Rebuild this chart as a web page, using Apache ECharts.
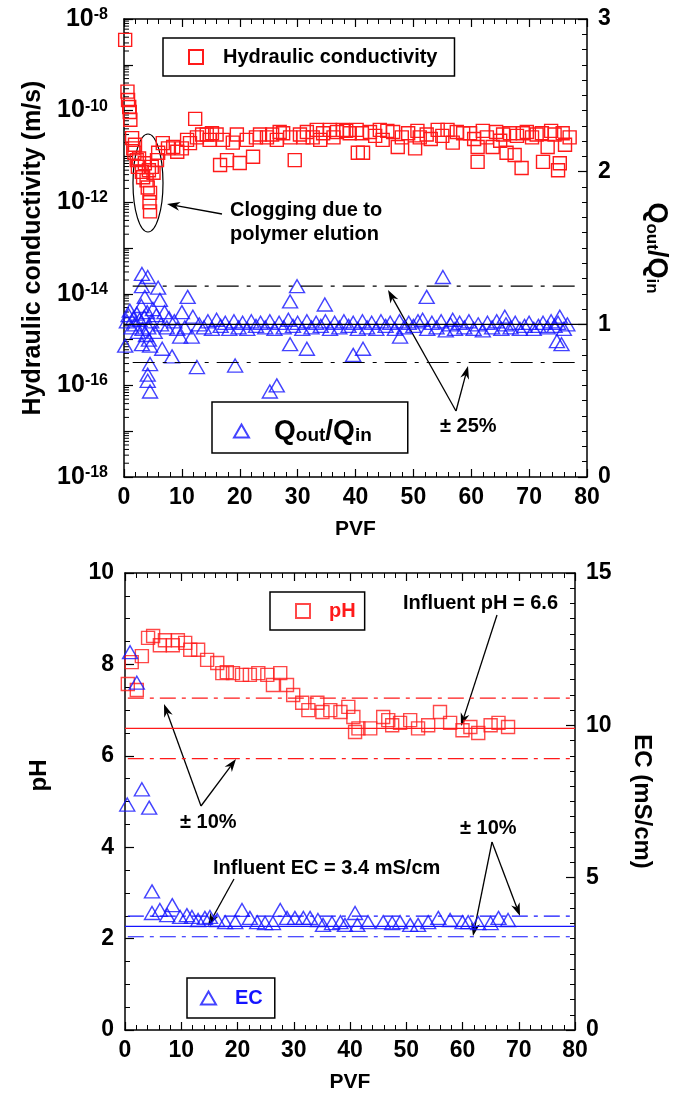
<!DOCTYPE html>
<html><head><meta charset="utf-8">
<script src="https://cdn.jsdelivr.net/npm/echarts@6/dist/echarts.min.js"></script>
<style>html,body{margin:0;padding:0;background:#fff}#c{width:686px;height:1104px}</style>
</head><body><div id="c"></div>
<script>
// ---------- Top panel data ----------
const kPVF = [0.2,0.6,0.7,0.9,1.0,1.1,1.4,1.6,1.9,1.8,2.2,2.4,2.6,3.1,3.3,3.6,3.9,4.1,4.3,4.5,4.4,4.5,4.8,5.1,5.7,5.9,6.7,7.6,8.5,9.2,10.0,10.9,11.4,12.3,12.6,13.5,14.3,14.8,15.2,16.0,16.6,17.1,17.8,18.8,19.5,20.0,21.2,22.3,22.8,23.5,24.7,25.6,26.4,26.9,27.5,28.7,29.5,30.4,31.0,31.6,32.6,33.3,33.9,34.4,35.6,36.2,36.8,37.8,38.4,39.0,40.2,40.4,41.1,41.3,42.5,43.4,44.2,44.7,45.5,46.5,47.3,48.0,49.1,50.3,50.7,51.1,52.3,53.0,54.2,55.0,55.9,56.8,57.5,58.6,59.8,60.5,61.1,61.1,62.0,62.7,63.7,64.3,65.0,65.5,66.1,66.7,67.5,67.9,68.7,68.9,69.6,70.5,71.3,72.2,72.4,73.2,73.8,74.4,75.0,75.3,75.8,76.2,77.0];
const kVal = [3.5e-9,2.6e-10,1.7e-10,1.2e-10,9.3e-11,6.3e-11,2.5e-11,1.5e-11,1.8e-11,1.2e-11,8.3e-12,5.9e-12,9.0e-12,4.6e-12,3.5e-12,7.1e-12,3.0e-12,2.1e-12,5.0e-12,1.6e-12,1.0e-12,6.3e-13,5.9e-12,4.4e-12,8.3e-12,1.2e-11,1.95e-11,1.5e-11,1.6e-11,1.26e-11,1.5e-11,2.3e-11,1.95e-11,6.6e-11,2.6e-11,3.0e-11,3.0e-11,2.3e-11,3.2e-11,3.0e-11,6.5e-12,2.3e-11,8.3e-12,2.0e-11,3.0e-11,7.2e-12,2.3e-11,9.8e-12,2.6e-11,3.0e-11,2.6e-11,3.0e-11,2.3e-11,3.4e-11,3.2e-11,2.6e-11,8.3e-12,3.0e-11,2.6e-11,3.4e-11,2.6e-11,3.8e-11,2.3e-11,3.2e-11,3.8e-11,2.6e-11,3.4e-11,3.8e-11,3.6e-11,3.2e-11,3.8e-11,1.2e-11,3.2e-11,1.2e-11,3.4e-11,2.8e-11,3.8e-11,2.3e-11,3.6e-11,3.4e-11,1.6e-11,2.6e-11,3.2e-11,1.5e-11,3.6e-11,2.6e-11,3.0e-11,2.4e-11,3.8e-11,2.8e-11,3.8e-11,2.0e-11,3.4e-11,3.2e-11,3.2e-11,2.4e-11,1.6e-11,7.6e-12,3.6e-11,2.6e-11,1.6e-11,3.4e-11,2.2e-11,3.0e-11,1.2e-11,3.2e-11,1.07e-11,2.8e-11,5.6e-12,3.2e-11,3.4e-11,2.6e-11,3.0e-11,3.2e-11,7.6e-12,1.6e-11,3.6e-11,3.0e-11,5.0e-12,7.1e-12,3.2e-11,1.8e-11,2.6e-11];

const qPVF = [0.2,0.5,0.8,1.0,1.3,1.6,1.9,2.2,2.4,2.7,3.1,3.1,3.0,3.2,3.1,3.5,3.6,3.8,4.1,4.0,4.2,4.1,4.1,4.3,4.5,4.5,4.5,4.7,5.0,5.3,5.6,5.9,6.2,6.4,6.6,7.0,7.4,7.8,8.3,8.7,9.2,9.7,10.0,10.5,11.0,11.7,11.9,12.6,
 13.0,13.8,14.5,15.2,16.0,16.7,17.5,18.2,19.0,19.2,19.8,20.5,21.3,22.0,22.8,23.6,24.4,25.2,25.2,26.0,26.4,26.8,27.6,28.4,28.7,28.7,29.9,29.2,30.0,30.8,31.6,31.6,32.4,33.2,34.0,34.7,34.8,35.6,36.4,37.2,38.0,38.8,39.6,39.6,40.4,41.3,41.2,42.0,42.8,43.6,44.4,45.2,46.0,46.8,47.7,47.6,48.4,49.2,50.0,50.8,51.6,52.3,52.4,53.2,54.0,54.8,55.1,55.6,56.4,56.8,57.2,58.0,58.8,59.6,60.4,61.2,62.0,62.8,63.6,64.4,65.2,65.8,66.0,66.8,67.6,68.4,69.2,70.0,70.8,71.6,72.4,73.2,73.8,74.4,74.8,75.0,75.3,75.6,76.0,76.6];
const qVal = [0.86,1.02,1.06,1.09,0.98,1.04,1.00,1.07,0.95,1.03,1.33,1.25,1.12,0.97,0.87,1.05,1.18,0.93,1.31,1.08,0.98,0.67,0.63,0.90,0.86,0.74,0.56,1.02,1.10,0.95,1.06,1.24,1.16,1.00,0.84,1.08,0.98,1.04,0.79,1.02,0.97,0.92,1.08,0.98,1.18,0.92,1.05,0.72,
 1.00,0.98,1.02,0.97,1.03,0.99,1.01,0.97,1.02,0.73,0.98,1.01,0.97,1.02,0.99,1.01,0.98,0.56,1.02,0.97,0.60,1.01,0.98,1.03,1.15,0.87,1.25,0.99,1.01,0.97,0.84,1.02,0.98,1.01,0.99,1.13,1.02,0.97,1.01,0.98,1.02,0.99,0.80,1.01,0.97,0.84,1.02,0.98,1.01,0.97,1.02,0.99,1.01,0.97,0.92,1.02,0.98,1.01,0.99,1.02,1.03,1.18,0.97,1.01,0.98,1.02,1.31,0.96,1.00,1.03,0.97,1.01,0.98,1.02,0.97,1.00,0.96,1.01,0.98,1.02,0.97,1.05,1.00,0.98,1.01,0.97,0.99,1.01,0.97,0.99,1.01,0.98,1.02,0.99,0.89,1.01,1.05,0.87,0.97,1.00];

const qRefMid = 1.0, qRefUp = 1.25, qRefLow = 0.75;
const qMidX = [0, 80], qBandX = [1.5, 78.5];

// ---------- Bottom panel data ----------
const phPVF = [0.5,2.1,1.2,3.0,4.1,5.0,6.2,7.1,8.5,9.4,10.7,11.6,13.0,14.6,16.4,17.3,18.1,19.2,20.8,22.2,23.7,25.3,27.6,26.3,28.8,29.9,31.5,32.6,34.2,35.1,36.5,38.3,39.7,40.9,40.6,41.5,43.6,45.9,46.8,47.5,48.9,50.7,52.1,53.9,56.0,57.8,60.0,61.4,62.8,65.0,66.4,68.1];
const phVal = [7.57,7.44,8.05,8.18,8.58,8.62,8.42,8.53,8.42,8.53,8.47,8.32,8.32,8.10,8.03,7.81,7.83,7.81,7.77,7.77,7.81,7.77,7.81,7.55,7.55,7.33,7.16,7.00,7.16,6.96,7.00,6.96,7.07,6.52,6.85,6.60,6.60,6.85,6.78,6.67,6.72,6.78,6.60,6.67,6.96,6.72,6.56,6.63,6.50,6.67,6.72,6.63];
const ecPVF = [0.9,2.1,3.0,0.4,4.3,4.8,4.8,6.2,7.5,8.4,9.8,11.0,11.9,13.0,14.2,15.1,16.4,17.8,19.6,20.8,22.2,23.5,24.9,26.3,27.6,28.8,30.2,31.7,32.9,34.3,35.2,36.8,38.3,39.1,40.9,41.3,43.2,45.9,47.5,48.9,50.7,52.1,53.9,55.7,57.8,60.0,61.0,62.8,65.0,66.4,68.1];
const ecVal = [12.4,11.4,7.9,7.4,7.3,4.55,3.84,3.94,3.77,4.10,3.71,3.77,3.71,3.61,3.68,3.71,3.61,3.54,3.54,3.94,3.68,3.54,3.51,3.51,3.94,3.68,3.68,3.68,3.68,3.61,3.45,3.51,3.54,3.45,3.84,3.45,3.54,3.54,3.51,3.54,3.45,3.45,3.54,3.68,3.61,3.54,3.54,3.51,3.51,3.68,3.61];
const phInfluent = 6.6, phUp = 7.26, phLow = 5.94;
const ecInfluent = 3.4, ecUp = 3.74, ecLow = 3.06;
const phMidX = [0, 80], phBandX = [0.5, 80];
const ecMidX = [0, 80], ecBandX = [0.5, 80];

// ---------- Axis tick labels ----------
const xTicks = [0,10,20,30,40,50,60,70,80];
const logLabelExps = [-18,-16,-14,-12,-10,-8];
const logMinorFactors = [2,3,4,5,6,7,8,9];
const logDecades = [-18,-17,-16,-15,-14,-13,-12,-11,-10,-9];

const FONT = '"Liberation Sans", Arial, sans-serif';
const RED = '#ff1a1a', BLUE = '#1414ff';
const TICK_FS = 23;

function zip(a, b) { return a.map((v, i) => [v, b[i]]); }
function hline(xs, y) { return [[xs[0], y], [xs[1], y]]; }

const logMinorData = [];
logDecades.forEach(e => logMinorFactors.forEach(f => logMinorData.push([0, f * Math.pow(10, e)])));

function xAxisCfg(grid, top, withName) {
  return {
    type: 'value', gridIndex: grid, min: 0, max: 80, interval: 10,
    position: top ? 'top' : 'bottom',
    axisLine: { show: true, onZero: false, lineStyle: { color: '#000', width: 1.5 } },
    axisTick: { show: true, inside: true, length: 8, lineStyle: { color: '#000', width: 1.2 } },
    minorTick: { show: true, splitNumber: 5, length: 5, lineStyle: { color: '#000', width: 1 } },
    splitLine: { show: false }, minorSplitLine: { show: false },
    axisLabel: { show: !top, color: '#000', fontSize: TICK_FS, fontWeight: 'bold', fontFamily: FONT, margin: 9,
      formatter: v => xTicks.indexOf(v) >= 0 ? String(v) : '' },
    name: withName ? 'PVF' : '', nameLocation: 'middle', nameGap: 42,
    nameTextStyle: { color: '#000', fontSize: 21, fontWeight: 'bold', fontFamily: FONT }
  };
}

function linAxis(grid, pos, min, max, interval, minorSplit, name, nameGap, nameRotate, nameFs, rich, namePad) {
  return {
    type: 'value', gridIndex: grid, position: pos, min, max, interval,
    axisLine: { show: true, onZero: false, lineStyle: { color: '#000', width: 1.5 } },
    axisTick: { show: true, inside: true, length: 9, lineStyle: { color: '#000', width: 1.2 } },
    minorTick: { show: true, splitNumber: minorSplit, length: 5, lineStyle: { color: '#000', width: 1 } },
    splitLine: { show: false }, minorSplitLine: { show: false },
    axisLabel: { color: '#000', fontSize: TICK_FS, fontWeight: 'bold', fontFamily: FONT, margin: 11 },
    name, nameLocation: 'middle', nameGap, nameRotate,
    nameTextStyle: { color: '#000', fontSize: nameFs, fontWeight: 'bold', fontFamily: FONT, rich: rich, padding: namePad || 0 }
  };
}

function subRich(big, small, drop) {
  return {
    q: { fontSize: big, fontWeight: 'bold', fontFamily: FONT, color: '#000', lineHeight: big, verticalAlign: 'top' },
    sub: { fontSize: small, fontWeight: 'bold', fontFamily: FONT, color: '#000', lineHeight: small, verticalAlign: 'bottom', padding: [drop, 0, 0, 0] }
  };
}

function arrow(x1, y1, x2, y2) {
  const a = Math.atan2(y2 - y1, x2 - x1), L = 13, W = 4.5;
  const c = Math.cos(a), s = Math.sin(a);
  const bx = x2 - L * c, by = y2 - L * s;
  const mx = x2 - L * 0.7 * c, my = y2 - L * 0.7 * s;
  return [
    { type: 'line', silent: true, shape: { x1, y1, x2: mx, y2: my }, style: { stroke: '#000', lineWidth: 1.3 } },
    { type: 'polygon', silent: true, shape: { points: [[x2, y2], [bx - s * W, by + c * W], [mx, my], [bx + s * W, by - c * W]] }, style: { fill: '#000' } }
  ];
}
function label(x, y, text, align) {
  return { type: 'text', silent: true, x, y, style: { text, font: 'bold 20px ' + FONT, fill: '#000', align: align || 'left', verticalAlign: 'middle' } };
}

const graphics = [
  { type: 'ellipse', silent: true, shape: { cx: 148, cy: 183, rx: 15, ry: 49 }, style: { fill: 'none', stroke: '#000', lineWidth: 1.2 } },
  label(230, 210, 'Clogging due to'),
  label(230, 234, 'polymer elution'),
  ...arrow(222, 214, 167, 204),
  label(440, 426, '± 25%'),
  ...arrow(456, 411, 388, 290),
  ...arrow(456, 411, 468, 366),
  label(403, 603, 'Influent pH = 6.6'),
  ...arrow(497, 615, 461, 726),
  label(180, 822, '± 10%'),
  ...arrow(201, 806, 164, 704),
  ...arrow(201, 806, 236, 759),
  label(213, 868, 'Influent EC = 3.4 mS/cm'),
  ...arrow(234, 879, 208, 926),
  label(460, 828, '± 10%'),
  ...arrow(492, 842, 473, 936),
  ...arrow(492, 842, 520, 916)
];

const legendBase = {
  orient: 'horizontal', borderColor: '#000', borderWidth: 1.5, borderRadius: 0, selectedMode: false,
  itemGap: 0, backgroundColor: '#fff'
};

const option = {
  animation: false,
  backgroundColor: '#fff',
  grid: [
    { left: 124, top: 19, width: 463, height: 458 },
    { left: 125, top: 573, width: 450, height: 457 }
  ],
  xAxis: [ xAxisCfg(0, false, true), xAxisCfg(0, true, false), xAxisCfg(1, false, true), xAxisCfg(1, true, false) ],
  yAxis: [
    {
      type: 'log', logBase: 10, gridIndex: 0, position: 'left', min: 1e-18, max: 1e-8, splitNumber: 10,
      axisLine: { show: true, onZero: false, lineStyle: { color: '#000', width: 1.5 } },
      axisTick: { show: true, inside: true, length: 9, lineStyle: { color: '#000', width: 1.2 } },
      splitLine: { show: false },
      axisLabel: {
        color: '#000', fontFamily: FONT, margin: 16,
        formatter: v => { const e = Math.round(Math.log10(v)); return logLabelExps.indexOf(e) >= 0 ? '{b|10}{s|' + e + '}' : ''; },
        rich: {
          b: { fontSize: 25, fontWeight: 'bold', fontFamily: FONT, color: '#000', lineHeight: 25, verticalAlign: 'bottom' },
          s: { fontSize: 16, fontWeight: 'bold', fontFamily: FONT, color: '#000', lineHeight: 16, verticalAlign: 'top', padding: [0, 0, 14, 0] }
        }
      },
      name: 'Hydraulic conductivity (m/s)', nameLocation: 'middle', nameGap: 78, nameRotate: 90,
      nameTextStyle: { color: '#000', fontSize: 25, fontWeight: 'bold', fontFamily: FONT }
    },
    linAxis(0, 'right', 0, 3, 1, 10, '{q|Q}{sub|out}{q|/Q}{sub|in}', 56, -90, 27, subRich(27, 17, 17)),
    linAxis(1, 'left', 0, 10, 2, 4, 'pH', 74, 90, 24, null, [0, 0, 0, 52]),
    linAxis(1, 'right', 0, 15, 5, 10, 'EC (mS/cm)', 55, -90, 24)
  ],
  legend: [
    Object.assign({}, legendBase, {
      data: ['Hydraulic conductivity'], left: 163, top: 38, padding: [9, 17, 9, 25],
      itemWidth: 14, itemHeight: 14,
      textStyle: { fontSize: 20, fontWeight: 'bold', color: '#000', fontFamily: FONT, padding: [0, 0, 0, 15] }
    }),
    Object.assign({}, legendBase, {
      data: ['Qratio'], left: 212, top: 402, padding: [8, 36, 8, 21],
      itemWidth: 15, itemHeight: 13,
      formatter: () => '{q|Q}{sub|out}{q|/Q}{sub|in}',
      textStyle: { fontSize: 28, fontWeight: 'bold', color: '#000', fontFamily: FONT, padding: [0, 0, 0, 20], rich: subRich(28, 19, 16) }
    }),
    Object.assign({}, legendBase, {
      data: ['pH'], left: 270, top: 592, padding: [9, 9, 9, 25],
      itemWidth: 14, itemHeight: 14,
      textStyle: { fontSize: 20, fontWeight: 'bold', color: RED, fontFamily: FONT, padding: [0, 0, 0, 14] }
    }),
    Object.assign({}, legendBase, {
      data: ['EC'], left: 187, top: 978, padding: [10, 12, 10, 13],
      itemWidth: 15, itemHeight: 13,
      textStyle: { fontSize: 20, fontWeight: 'bold', color: BLUE, fontFamily: FONT, padding: [0, 0, 0, 14] }
    })
  ],
  graphic: graphics,
  series: [
    { type: 'custom', xAxisIndex: 0, yAxisIndex: 0, silent: true, clip: false, data: logMinorData,
      renderItem: (params, api) => {
        const p = api.coord([0, api.value(1)]);
        return { type: 'line', shape: { x1: p[0], y1: p[1], x2: p[0] + 5, y2: p[1] }, style: { stroke: '#000', lineWidth: 1 } };
      } },
    { name: 'Qmid', type: 'line', xAxisIndex: 0, yAxisIndex: 1, data: hline(qMidX, qRefMid), symbol: 'none', silent: true,
      lineStyle: { color: '#000', width: 1.2 } },
    { name: 'Qup', type: 'line', xAxisIndex: 0, yAxisIndex: 1, data: hline(qBandX, qRefUp), symbol: 'none', silent: true,
      lineStyle: { color: '#000', width: 1.2, type: [22, 8, 4, 8] } },
    { name: 'Qlow', type: 'line', xAxisIndex: 0, yAxisIndex: 1, data: hline(qBandX, qRefLow), symbol: 'none', silent: true,
      lineStyle: { color: '#000', width: 1.2, type: [22, 8, 4, 8] } },
    { name: 'Hydraulic conductivity', type: 'scatter', xAxisIndex: 0, yAxisIndex: 0, data: zip(kPVF, kVal),
      symbol: 'rect', symbolSize: 13, silent: true,
      itemStyle: { color: 'rgba(255,255,255,0)', borderColor: RED, borderWidth: 1.4, opacity: 1 } },
    { name: 'Qratio', type: 'scatter', xAxisIndex: 0, yAxisIndex: 1, data: zip(qPVF, qVal),
      symbol: 'triangle', symbolSize: [15, 13], silent: true,
      itemStyle: { color: 'rgba(255,255,255,0)', borderColor: BLUE, borderWidth: 1.4 } },

    { name: 'phMid', type: 'line', xAxisIndex: 2, yAxisIndex: 2, data: hline(phMidX, phInfluent), symbol: 'none', silent: true,
      lineStyle: { color: RED, width: 1.2 } },
    { name: 'phUp', type: 'line', xAxisIndex: 2, yAxisIndex: 2, data: hline(phBandX, phUp), symbol: 'none', silent: true,
      lineStyle: { color: RED, width: 1.2, type: [16, 6, 4, 6] } },
    { name: 'phLow', type: 'line', xAxisIndex: 2, yAxisIndex: 2, data: hline(phBandX, phLow), symbol: 'none', silent: true,
      lineStyle: { color: RED, width: 1.2, type: [16, 6, 4, 6] } },
    { name: 'ecMid', type: 'line', xAxisIndex: 2, yAxisIndex: 3, data: hline(ecMidX, ecInfluent), symbol: 'none', silent: true,
      lineStyle: { color: BLUE, width: 1.2 } },
    { name: 'ecUp', type: 'line', xAxisIndex: 2, yAxisIndex: 3, data: hline(ecBandX, ecUp), symbol: 'none', silent: true,
      lineStyle: { color: BLUE, width: 1.2, type: [16, 6, 4, 6] } },
    { name: 'ecLow', type: 'line', xAxisIndex: 2, yAxisIndex: 3, data: hline(ecBandX, ecLow), symbol: 'none', silent: true,
      lineStyle: { color: BLUE, width: 1.2, type: [16, 6, 4, 6] } },
    { name: 'pH', type: 'scatter', xAxisIndex: 2, yAxisIndex: 2, data: zip(phPVF, phVal),
      symbol: 'rect', symbolSize: 13, silent: true,
      itemStyle: { color: 'rgba(255,255,255,0)', borderColor: RED, borderWidth: 1.4 } },
    { name: 'EC', type: 'scatter', xAxisIndex: 2, yAxisIndex: 3, data: zip(ecPVF, ecVal),
      symbol: 'triangle', symbolSize: [15, 13], silent: true,
      itemStyle: { color: 'rgba(255,255,255,0)', borderColor: BLUE, borderWidth: 1.4 } }
  ]
};

const chart = echarts.init(document.getElementById('c'), null, { renderer: 'canvas' });
chart.setOption(option);
</script></body></html>
